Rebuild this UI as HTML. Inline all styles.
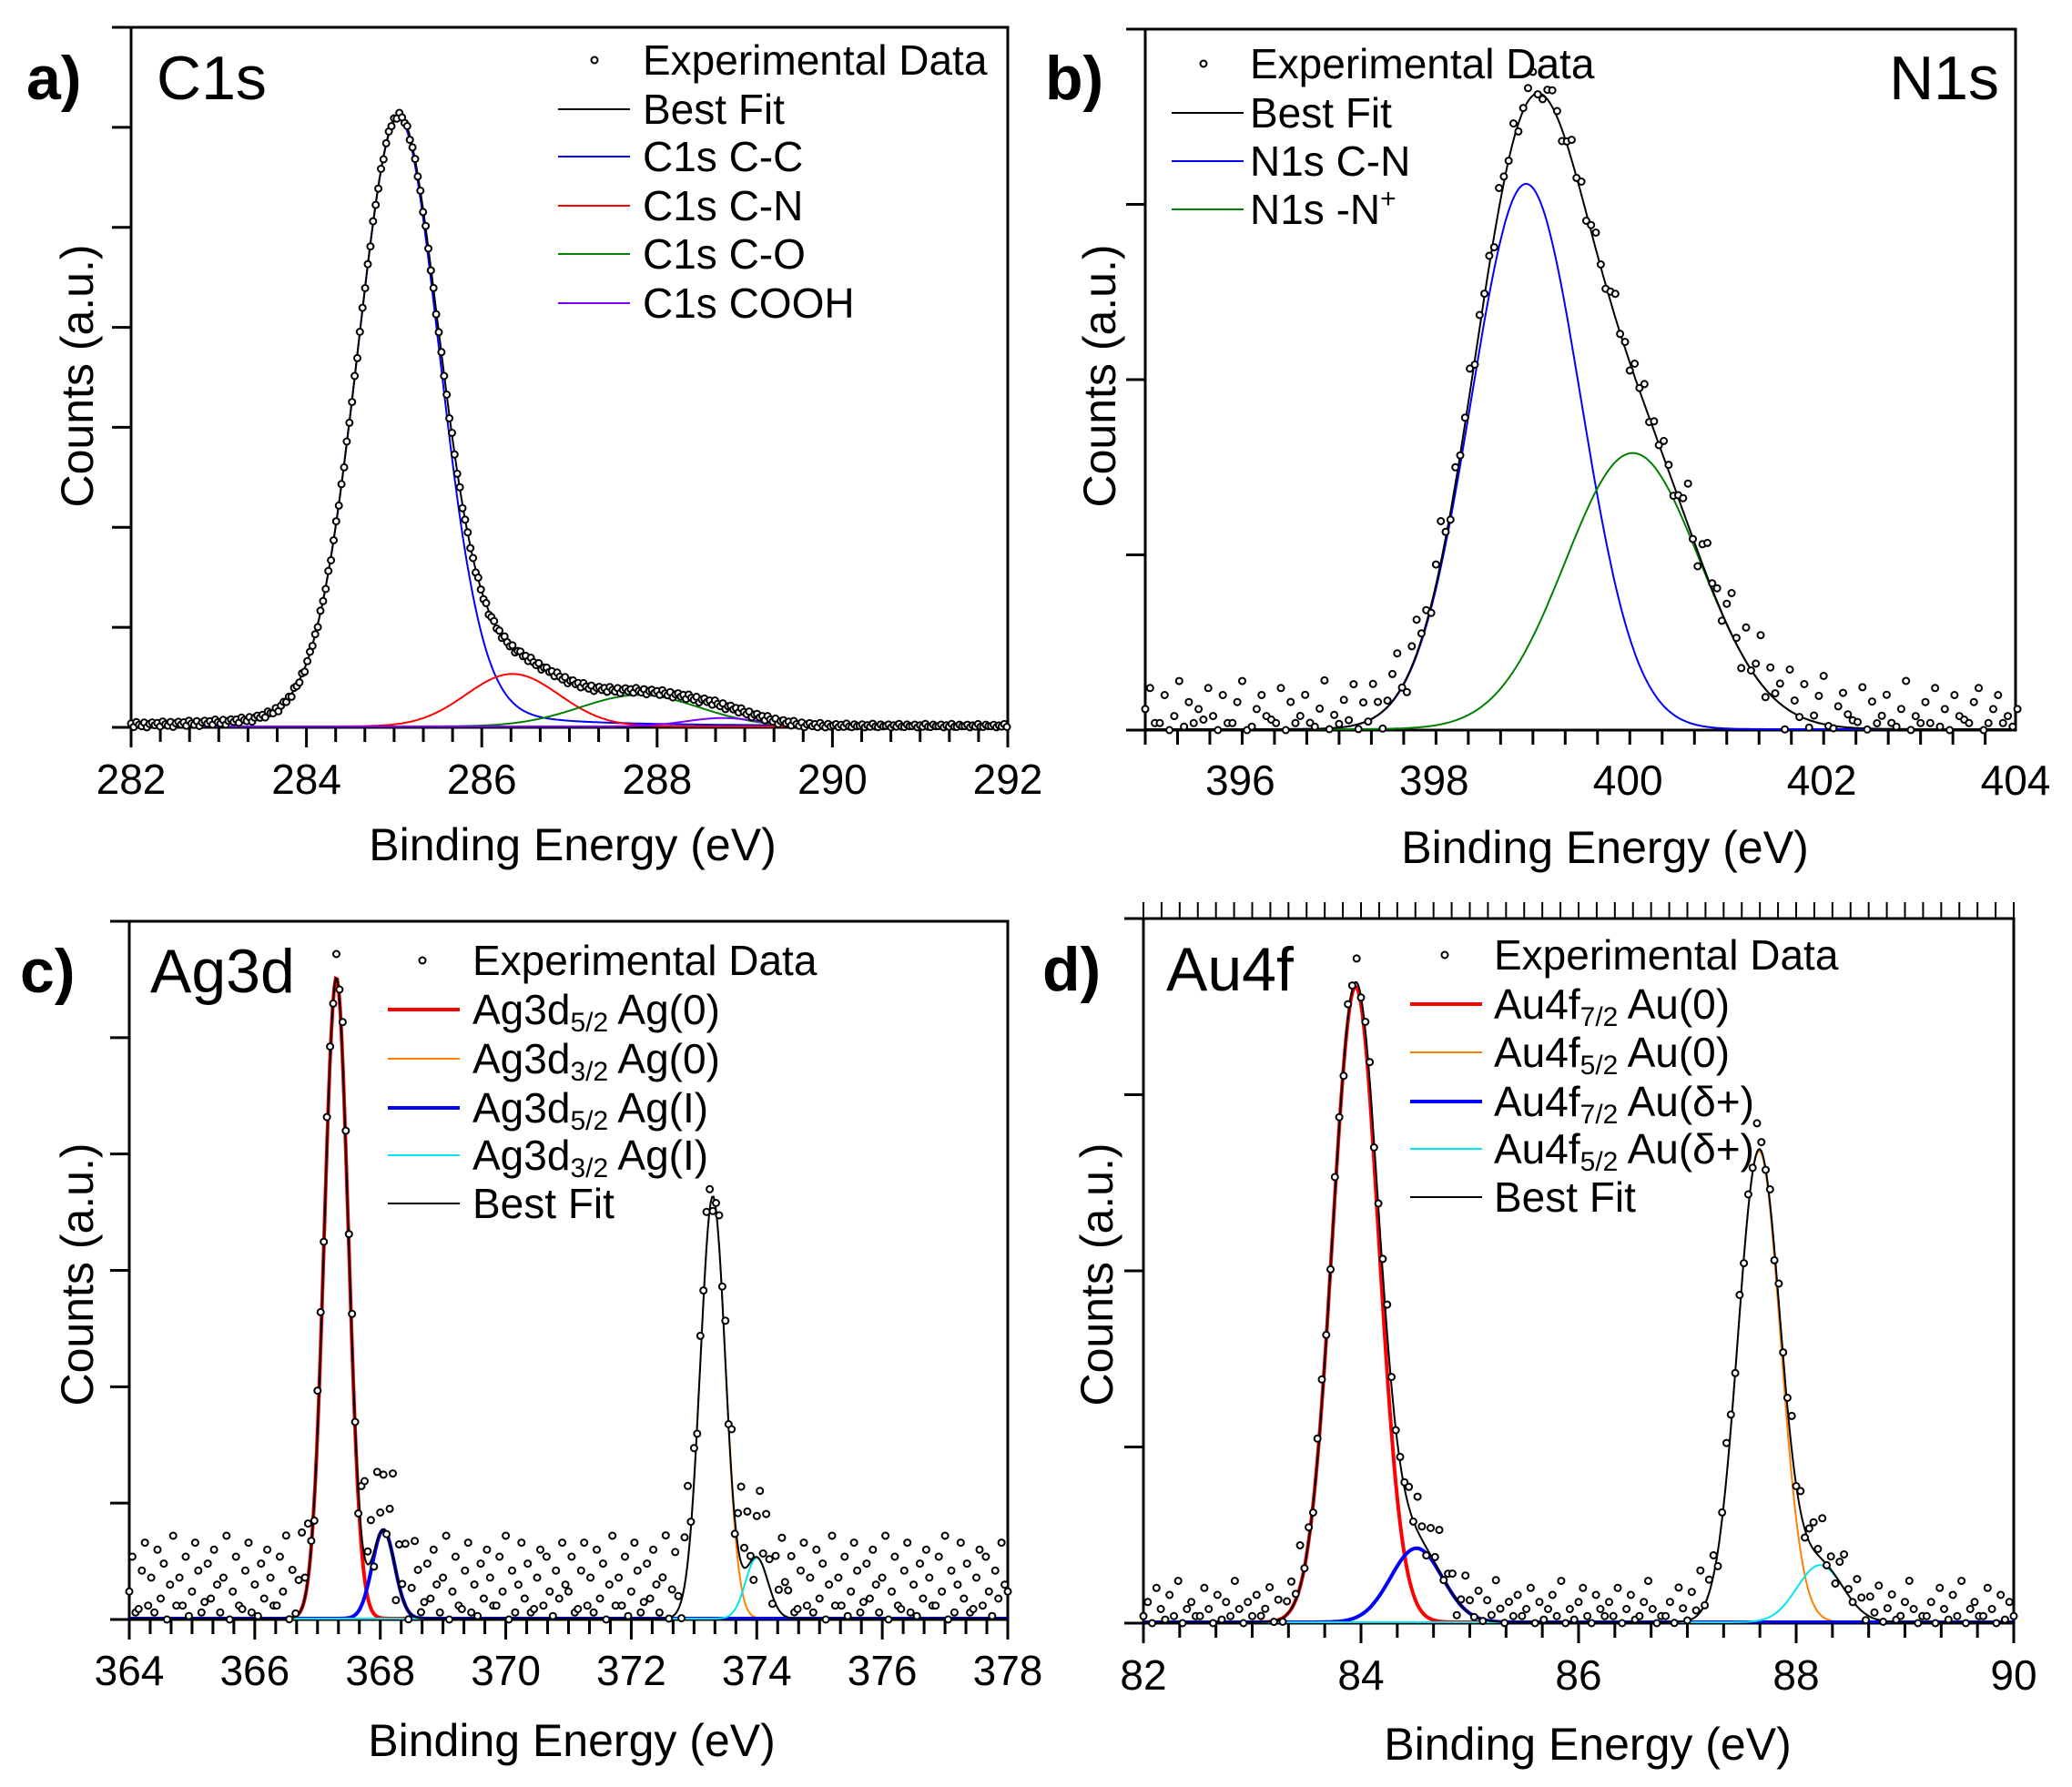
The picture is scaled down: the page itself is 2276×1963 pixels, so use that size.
<!DOCTYPE html>
<html><head><meta charset="utf-8"><style>
html,body{margin:0;padding:0;background:#fff}
svg{display:block}
text{font-family:"Liberation Sans",Arial,sans-serif;fill:#000}
</style></head><body>
<svg id="fig" width="2276" height="1963" viewBox="0 0 2276 1963" xmlns="http://www.w3.org/2000/svg">
<rect width="2276" height="1963" fill="#fff"/>
<text x="29" y="109" font-size="68" font-weight="bold">a)</text>
<text x="172" y="109" font-size="68">C1s</text>
<text x="1148" y="109" font-size="68" font-weight="bold">b)</text>
<text x="2196" y="109" font-size="68" text-anchor="end">N1s</text>
<text x="22" y="1090" font-size="68" font-weight="bold">c)</text>
<text x="165" y="1090" font-size="68">Ag3d</text>
<text x="1145" y="1088" font-size="68" font-weight="bold">d)</text>
<text x="1281" y="1088" font-size="68">Au4f</text>
<text x="629" y="945" font-size="50" text-anchor="middle">Binding Energy (eV)</text>
<text x="1763" y="948" font-size="50" text-anchor="middle">Binding Energy (eV)</text>
<text x="628" y="1929" font-size="50" text-anchor="middle">Binding Energy (eV)</text>
<text x="1744" y="1933" font-size="50" text-anchor="middle">Binding Energy (eV)</text>
<text transform="translate(102,413) rotate(-90)" font-size="50" text-anchor="middle">Counts (a.u.)</text>
<text transform="translate(1225,413) rotate(-90)" font-size="50" text-anchor="middle">Counts (a.u.)</text>
<text transform="translate(102,1400) rotate(-90)" font-size="50" text-anchor="middle">Counts (a.u.)</text>
<text transform="translate(1222,1400) rotate(-90)" font-size="50" text-anchor="middle">Counts (a.u.)</text>
<g id="marks"></g>
<g font-size="46">
 <circle cx="653" cy="66" r="3.5" fill="#fff" stroke="#000" stroke-width="2"/>
 <text x="706" y="82">Experimental Data</text>
 <line x1="613" y1="120" x2="692" y2="120" stroke="#000" stroke-width="2"/><text x="706" y="136">Best Fit</text>
 <line x1="613" y1="172" x2="692" y2="172" stroke="#0000ff" stroke-width="2"/><text x="706" y="188">C1s C-C</text>
 <line x1="613" y1="226" x2="692" y2="226" stroke="#ff0000" stroke-width="2"/><text x="706" y="242">C1s C-N</text>
 <line x1="613" y1="279" x2="692" y2="279" stroke="#008000" stroke-width="2"/><text x="706" y="295">C1s C-O</text>
 <line x1="613" y1="333" x2="692" y2="333" stroke="#8000ff" stroke-width="2"/><text x="706" y="349">C1s COOH</text>
</g>
<g font-size="46">
 <circle cx="1322" cy="70" r="3.5" fill="#fff" stroke="#000" stroke-width="2"/>
 <text x="1373" y="86">Experimental Data</text>
 <line x1="1287" y1="124" x2="1366" y2="124" stroke="#000" stroke-width="2"/><text x="1373" y="140">Best Fit</text>
 <line x1="1287" y1="177" x2="1366" y2="177" stroke="#0000ff" stroke-width="2"/><text x="1373" y="193">N1s C-N</text>
 <line x1="1287" y1="230" x2="1366" y2="230" stroke="#008000" stroke-width="2"/><text x="1373" y="246">N1s -N<tspan font-size="30" dy="-18">+</tspan></text>
</g>
<g font-size="46">
 <circle cx="464" cy="1055" r="3.5" fill="#fff" stroke="#000" stroke-width="2"/>
 <text x="519" y="1071">Experimental Data</text>
 <line x1="426" y1="1109" x2="505" y2="1109" stroke="#ff0000" stroke-width="4"/><text x="519" y="1125">Ag3d<tspan font-size="30" dy="8">5/2</tspan><tspan dy="-8"> Ag(0)</tspan></text>
 <line x1="426" y1="1163" x2="505" y2="1163" stroke="#ff8000" stroke-width="2"/><text x="519" y="1179">Ag3d<tspan font-size="30" dy="8">3/2</tspan><tspan dy="-8"> Ag(0)</tspan></text>
 <line x1="426" y1="1217" x2="505" y2="1217" stroke="#0000ff" stroke-width="4"/><text x="519" y="1233">Ag3d<tspan font-size="30" dy="8">5/2</tspan><tspan dy="-8"> Ag(I)</tspan></text>
 <line x1="426" y1="1269" x2="505" y2="1269" stroke="#00e5ee" stroke-width="2"/><text x="519" y="1285">Ag3d<tspan font-size="30" dy="8">3/2</tspan><tspan dy="-8"> Ag(I)</tspan></text>
 <line x1="426" y1="1322" x2="505" y2="1322" stroke="#000" stroke-width="2"/><text x="519" y="1338">Best Fit</text>
</g>
<g font-size="46">
 <circle cx="1587" cy="1049" r="3.5" fill="#fff" stroke="#000" stroke-width="2"/>
 <text x="1641" y="1065">Experimental Data</text>
 <line x1="1549" y1="1103" x2="1628" y2="1103" stroke="#ff0000" stroke-width="4"/><text x="1641" y="1119">Au4f<tspan font-size="30" dy="8">7/2</tspan><tspan dy="-8"> Au(0)</tspan></text>
 <line x1="1549" y1="1156" x2="1628" y2="1156" stroke="#ff8000" stroke-width="2"/><text x="1641" y="1172">Au4f<tspan font-size="30" dy="8">5/2</tspan><tspan dy="-8"> Au(0)</tspan></text>
 <line x1="1549" y1="1210" x2="1628" y2="1210" stroke="#0000ff" stroke-width="4"/><text x="1641" y="1226">Au4f<tspan font-size="30" dy="8">7/2</tspan><tspan dy="-8"> Au(δ+)</tspan></text>
 <line x1="1549" y1="1262" x2="1628" y2="1262" stroke="#00e5ee" stroke-width="2"/><text x="1641" y="1278">Au4f<tspan font-size="30" dy="8">5/2</tspan><tspan dy="-8"> Au(δ+)</tspan></text>
 <line x1="1549" y1="1315" x2="1628" y2="1315" stroke="#000" stroke-width="2"/><text x="1641" y="1331">Best Fit</text>
</g>
</svg>
<script>
// ---------- data (peak fit parameters; heights in a.u.) ----------
const aTickLabels = ['282','284','286','288','290','292'];
const aNames = ['c-c','c-n','c-o','cooh'];
const aCenters = [285.05, 286.35, 287.8, 288.75];
const aHeights = [0.87, 0.075, 0.045, 0.012];
const aWidths = [1.12, 1.25, 1.6, 1.0];
const aMix = [0.12, 0, 0, 0];
const aNoise = [0.2,-0.3,0.4,0,-0.2,0.3,-0.4,0.1,0.3,-0.1];

const bTickLabels = ['396','398','400','402','404'];
const bNames = ['c-n','n-plus'];
const bCenters = [398.95, 400.05];
const bHeights = [0.778, 0.394];
const bWidths = [1.33, 1.64];
const bMix = [0, 0];
const bNoise = [3,6,1,-2,5,0,2,7,-1,4,1,3,-3,6,2,0,5,-2,1,4,7,0,-1,3,5,2,-3,1,6,0,4,-2,2,5,1,-1,3,7,0,2,-2,4,1,6,-1,3,0,5,2,-3,1,4,6,0,-2,3,5,1,2,-1];

const cTickLabels = ['364','366','368','370','372','374','376','378'];
const cNames = ['ag0-5-2','ag0-3-2','agI-5-2','agI-3-2'];
const cCenters = [367.3, 373.3, 368.05, 374.0];
const cHeights = [0.918, 0.605, 0.127, 0.087];
const cWidths = [0.45, 0.47, 0.42, 0.42];
const cMix = [0, 0, 0, 0];
const cNoise = [4,9,1,-3,7,11,2,6,-2,10,3,8,0,5,12,-4,6,2,9,-1,4,11,7,1,-5,8,3,10,5,-2,6,12,0,4,9,2,-3,7,11,1,5,-1,8,3,10,6,-4,2,9,4,12,0,7,-2,5,11,3,8,1,-3,6,10,2,9,4,-1,7,3,11,5];

const dTickLabels = ['82','84','86','88','90'];
const dNames = ['au0-7-2','au0-5-2','audelta-7-2','audelta-5-2'];
const dCenters = [83.95, 87.66, 84.51, 88.22];
const dHeights = [0.902, 0.669, 0.105, 0.081];
const dWidths = [0.5, 0.46, 0.56, 0.5];
const dMix = [0, 0, 0, 0];
const dNoise = [1,3,0,5,2,-1,4,1,6,0,2,3,-2,1,5,2,0,4,-1,3,1,6,2,0,3,-2,4,1,2,5,0,3,-1,2,4,1,6,0,2,-1,3,5,1,0,4,2,-2,3,1,5,0,2,4,-1,1,3,6,2,0,1];

// ---------- rendering ----------
const NS = 'http://www.w3.org/2000/svg';
const root = document.getElementById('marks');
function mk(tag, attrs, name, parent) {
  const el = document.createElementNS(NS, tag);
  for (const k in attrs) el.setAttribute(k, attrs[k]);
  
  
  (parent || root).appendChild(el);
  return el;
}
function pv(x, c, h, w, m) {
  const r = (x - c) / w;
  return h * ((1 - m) * Math.exp(-4 * Math.LN2 * r * r) + m / (1 + 4 * r * r));
}
function drawPanel(p, tickLabels, names, centers, heights, widths, mix, colors, compW, noise, noiseScale, step, xmin, xmax) {
  const g = mk('g', {}, 'panel-' + p.id, root);
  const xs = v => p.left + (v - xmin) / (xmax - xmin) * (p.right - p.left);
  const ys = v => p.bottom - v * (p.bottom - p.top);
  mk('rect', {x: p.left, y: p.top, width: p.right - p.left, height: p.bottom - p.top, fill: 'none', stroke: '#000', 'stroke-width': 3}, 'panel-' + p.id + '-frame', g);
  const t0 = parseFloat(tickLabels[0]);
  const major = parseFloat(tickLabels[1]) - t0;
  for (let v = xmin; v <= xmax + 1e-6; v += major / 6) {
    const isMaj = Math.abs(((v - t0) / major) - Math.round((v - t0) / major)) < 1e-4;
    mk('line', {x1: xs(v), x2: xs(v), y1: p.bottom, y2: p.bottom + (isMaj ? 22 : 16), stroke: '#000', 'stroke-width': 3}, 'x-tick', g);
  }
  tickLabels.forEach(l => {
    const t = mk('text', {x: xs(parseFloat(l)), y: p.labelY, 'font-size': 46, 'text-anchor': 'middle'}, 'x-tick-label', g);
    t.textContent = l;
  });
  if (p.topTicks) {
    for (let v = xmin; v <= xmax + 1e-6; v += 1 / 6) {
      mk('line', {x1: xs(v), x2: xs(v), y1: p.top, y2: p.top - 18, stroke: '#000', 'stroke-width': 2}, 'top-tick', g);
    }
  }
  for (let k = 0; k <= p.nY; k++) {
    const y = p.bottom - k * (p.bottom - p.top) / p.nY;
    mk('line', {x1: p.left - 21, x2: p.left, y1: y, y2: y, stroke: '#000', 'stroke-width': 3}, 'y-tick', g);
  }
  const cl = mk('g', {'clip-path': 'url(#clip-' + p.id + ')'}, 'panel-' + p.id + '-curves', g);
  const N = 600;
  const fitAt = x => { let s = 0; for (let i = 0; i < centers.length; i++) s += pv(x, centers[i], heights[i], widths[i], mix[i]); return s; };
  for (let i = 0; i < centers.length; i++) {
    let d = '';
    for (let j = 0; j <= N; j++) {
      const x = xmin + (xmax - xmin) * j / N;
      d += (j ? 'L' : 'M') + xs(x).toFixed(1) + ',' + (ys(pv(x, centers[i], heights[i], widths[i], mix[i])) - 1).toFixed(1);
    }
    mk('path', {d: d, fill: 'none', stroke: colors[i], 'stroke-width': compW[i]}, 'component-' + names[i], cl);
  }
  let d = '';
  for (let j = 0; j <= N; j++) {
    const x = xmin + (xmax - xmin) * j / N;
    d += (j ? 'L' : 'M') + xs(x).toFixed(1) + ',' + (ys(fitAt(x)) - 1).toFixed(1);
  }
  mk('path', {d: d, fill: 'none', stroke: '#000', 'stroke-width': 2}, 'best-fit-line', cl);
  const n = Math.round((xmax - xmin) / step);
  for (let j = 0; j <= n; j++) {
    const x = xmin + j * step;
    const f = fitAt(x);
    const nz = noise[j % noise.length] * noiseScale * (f > 0.3 ? p.peakNoise : 1);
    let y = f + nz;
    if (y < 0) y = -y * 0.5;
    mk('circle', {cx: xs(x).toFixed(1), cy: ys(y).toFixed(1), r: 3.5, fill: '#fff', stroke: '#000', 'stroke-width': 2}, 'data-point', g);
  }
}
const defs = document.createElementNS(NS, 'defs');
document.getElementById('fig').insertBefore(defs, root);
function addClip(id, x, y, w, h) {
  const c = document.createElementNS(NS, 'clipPath'); c.setAttribute('id', 'clip-' + id);
  const r = document.createElementNS(NS, 'rect');
  r.setAttribute('x', x); r.setAttribute('y', y); r.setAttribute('width', w); r.setAttribute('height', h);
  c.appendChild(r); defs.appendChild(c);
}
const PA = {id: 'a', left: 144, right: 1107, top: 30, bottom: 799, labelY: 872, nY: 7, topTicks: false, peakNoise: 1};
const PB = {id: 'b', left: 1258, right: 2214, top: 32, bottom: 802, labelY: 873, nY: 4, topTicks: false, peakNoise: 0.5};
const PC = {id: 'c', left: 142, right: 1107, top: 1012, bottom: 1779, labelY: 1851, nY: 6, topTicks: false, peakNoise: 0.5};
const PD = {id: 'd', left: 1256, right: 2212, top: 1009, bottom: 1783, labelY: 1856, nY: 4, topTicks: true, peakNoise: 0.7};
[PA, PB, PC, PD].forEach(p => addClip(p.id, p.left, p.top, p.right - p.left, p.bottom - p.top));

drawPanel(PA, aTickLabels, aNames, aCenters, aHeights, aWidths, aMix, ['#0000ff','#ff0000','#008000','#8000ff'], [2,2,2,2], aNoise, 0.01, 0.03, 282, 292);
drawPanel(PB, bTickLabels, bNames, bCenters, bHeights, bWidths, bMix, ['#0000ff','#008000'], [2,2], bNoise, 0.01, 0.05, 395.02, 404);
drawPanel(PC, cTickLabels, cNames, cCenters, cHeights, cWidths, cMix, ['#ff0000','#ff8000','#0000ff','#00e5ee'], [4,2,4,2], cNoise, 0.01, 0.05, 364, 378);
drawPanel(PD, dTickLabels, dNames, dCenters, dHeights, dWidths, dMix, ['#ff0000','#ff8000','#0000ff','#00e5ee'], [4,2,4,2], dNoise, 0.01, 0.04, 82, 90);
</script>
</body></html>
